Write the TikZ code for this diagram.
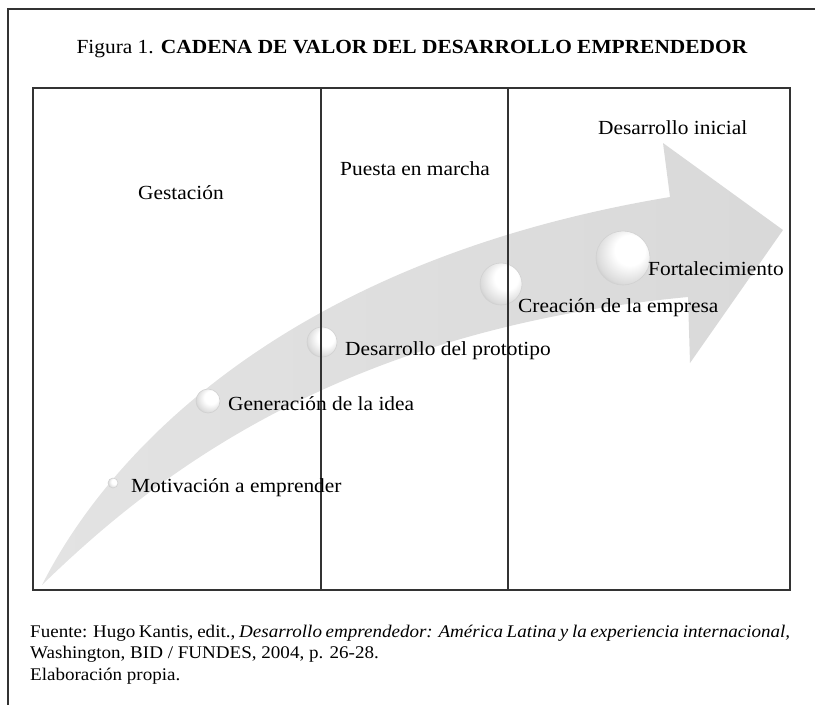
\documentclass[tikz,border=0pt]{standalone}
\usepackage{fontspec}
\setmainfont{Liberation Serif}[FakeStretch=1.07]
\pgfdeclareradialshading{dimple}{\pgfpoint{9bp}{10bp}}{color(0bp)=(white); color(14bp)=(white); color(28bp)=(black!14); color(40bp)=(black!36); color(46bp)=(black!30); color(50bp)=(black!14)}
\tikzset{
  frameline/.style={draw=black!80, line width=1.4pt},
  boxline/.style={draw=black!80, line width=1.2pt},
  lab/.style={anchor=base west, inner sep=0pt, font=\fontsize{20}{24}\selectfont},
  dimplecircle/.style={shading=dimple, draw=black!18, line width=0.6pt},
}
\begin{document}
\begin{tikzpicture}[x=1pt,y=-1pt]
\useasboundingbox (0,0) rectangle (815,705);
% outer partial frame
\coordinate (ftl) at (8,9);
\coordinate (ftr) at (815,9);
\coordinate (fbl) at (8,705);
\draw[frameline] (ftr) -- (ftl) -- (fbl);
% arrow
\path[left color=black!11, right color=black!15]
  (42,585) .. controls (110,450) and (290,260) .. (670,197)
  -- (663,143) -- (783,230) -- (690,363) -- (688,297)
  .. controls (335,330) and (150,480) .. (42,585) -- cycle;
% dimples
\path[dimplecircle] (113,483) circle (5);
\path[dimplecircle] (208,401) circle (12);
\path[dimplecircle] (322,342) circle (15);
\path[dimplecircle] (501,284) circle (21);
\path[dimplecircle] (623,258) circle (27);
% inner box with dividers
\coordinate (b1) at (33,88);
\coordinate (b2) at (790,590);
\draw[boxline] (b1) rectangle (b2);
\coordinate (d1t) at (321,88);
\coordinate (d1b) at (321,590);
\coordinate (d2t) at (508,88);
\coordinate (d2b) at (508,590);
\draw[boxline] (d1t) -- (d1b);
\draw[boxline] (d2t) -- (d2b);
% title
\node[anchor=base, inner sep=0pt, font=\fontsize{20}{24}\selectfont] (title) at (412,53)
  {Figura 1. \textbf{CADENA DE VALOR DEL DESARROLLO EMPRENDEDOR}};
% stage labels
\node[lab] (gest) at (138,199) {Gestación};
\node[lab] (puesta) at (340,175) {Puesta en marcha};
\node[lab] (desini) at (598,134) {Desarrollo inicial};
\node[lab] (fort) at (648,275) {Fortalecimiento};
\node[lab] (crea) at (518,312) {Creación de la empresa};
\node[lab] (proto) at (345,355) {Desarrollo del prototipo};
\node[lab] (gen) at (228,410) {Generación de la idea};
\node[lab] (motiv) at (131,492) {Motivación a emprender};
% source
\node[anchor=north west, inner sep=0pt, text width=760pt, align=justify,
      font=\fontsize{17.8}{21.5}\selectfont] (src) at (30,624.5)
  {\hyphenpenalty=10000 Fuente: Hugo Kantis, edit., \textit{Desarrollo emprendedor: América Latina y la experiencia internacional,}\linebreak
   Washington, BID / FUNDES, 2004, p. 26-28.\\
   Elaboración propia.};
\end{tikzpicture}
\end{document}
